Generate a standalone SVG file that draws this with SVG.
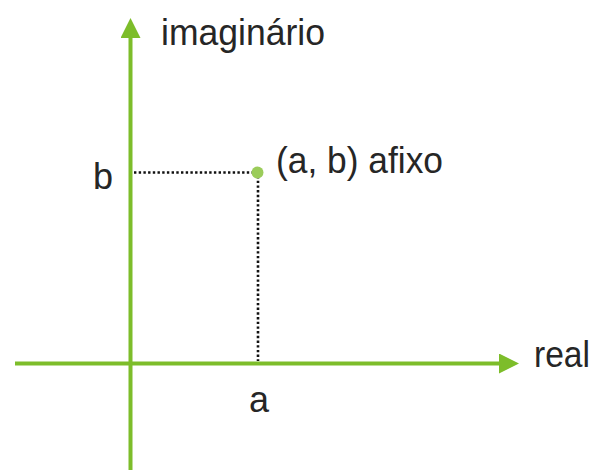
<svg xmlns="http://www.w3.org/2000/svg" width="596" height="470" viewBox="0 0 596 470">
<style>
.lbl{font-family:"Liberation Sans",Arial,sans-serif;font-size:36px;fill:#262626;}
.ax{stroke:#7dbd2a;stroke-width:4;fill:none;}
.dot{stroke:#111;stroke-width:2.6;stroke-dasharray:2.4 2.3;fill:none;}
</style>
<defs>
<marker id="ah" viewBox="0 0 20 20" refX="0" refY="10" markerWidth="20" markerHeight="20" markerUnits="userSpaceOnUse" orient="auto">
<path d="M0,0 L20,10 L0,20 Z" fill="#7dbd2a"/>
</marker>
</defs>
<g id="connectors">
<line class="ax" x1="15" y1="363.5" x2="499" y2="363.5" marker-end="url(#ah)"/>
<line class="ax" x1="130.5" y1="470" x2="130.5" y2="38" marker-end="url(#ah)"/>
<line class="dot" x1="134" y1="172.5" x2="256" y2="172.5"/>
<line class="dot" x1="258" y1="176" x2="258" y2="361"/>
</g>
<g id="point">
<circle cx="257.5" cy="172.5" r="6" fill="#9bcc5a"/>
</g>
<g id="labels">
<text class="lbl" x="161" y="45" textLength="164" lengthAdjust="spacingAndGlyphs">imaginário</text>
<text class="lbl" x="276" y="173" textLength="167" lengthAdjust="spacingAndGlyphs">(a, b) afixo</text>
<text class="lbl" x="93" y="189">b</text>
<text class="lbl" x="534" y="367" textLength="56" lengthAdjust="spacingAndGlyphs">real</text>
<text class="lbl" x="249" y="412">a</text>
</g>
</svg>
